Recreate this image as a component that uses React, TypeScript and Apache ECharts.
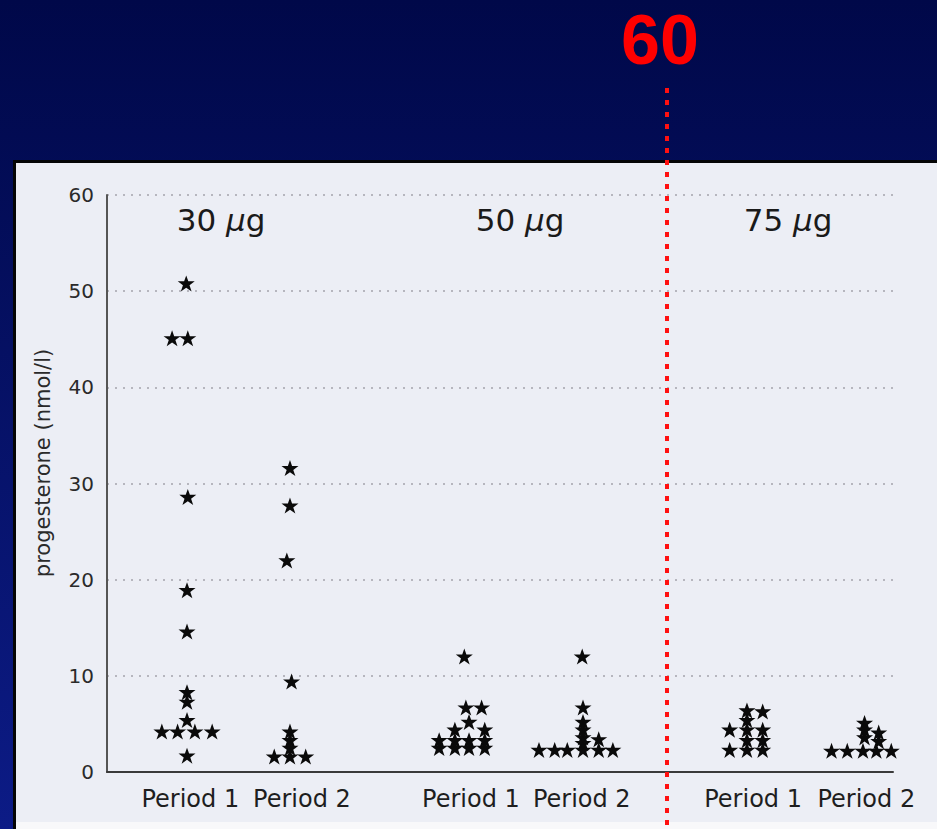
import React, { useEffect, useRef } from "react";
import * as echarts from "echarts";

// ---- data (x in star-column units along the baseline, y in nmol/l) ----
const doseTitles = ["30", "50", "75"];
const periodLabels = ["Period 1", "Period 2", "Period 1", "Period 2", "Period 1", "Period 2"];
const periodPositions = [5.3, 12.4, 23.15, 30.2, 41.1, 48.3];
const groupCenters = [5.09, 11.64, 23.03, 30.28, 40.71, 48.09];

const g1Values = [50.8, 45.1, 45.1, 28.6, 18.9, 14.6, 8.3, 7.3, 5.4, 4.2, 4.2, 4.2, 4.2, 1.7];
const g1Cols = [-0.05, -0.95, 0.05, 0.05, 0, 0, 0, 0, 0, -1.6, -0.6, 0.5, 1.6, 0];
const g2Values = [31.6, 27.7, 22.0, 9.4, 4.2, 3.3, 2.5, 1.6, 1.6, 1.6];
const g2Cols = [0, 0, -0.2, 0.1, 0, 0, 0, -1, 0, 1];
const g3Values = [12.0, 6.7, 6.7, 5.2, 4.4, 4.4, 3.3, 3.3, 3.3, 3.3, 2.5, 2.5, 2.5, 2.5];
const g3Cols = [-0.3, -0.2, 0.8, 0, -0.9, 1.0, -1.9, -0.9, 0, 1.0, -1.9, -0.9, 0, 1.0];
const g4Values = [12.0, 6.7, 5.2, 4.4, 3.6, 3.0, 3.4, 2.3, 2.3, 2.3, 2.3, 2.3, 2.3];
const g4Cols = [-0.05, 0, 0, 0, 0, 0, 1.0, -2.8, -1.8, -1.0, 0, 1.0, 1.9];
const g5Values = [6.4, 6.3, 5.4, 4.4, 4.4, 4.4, 3.3, 3.3, 2.3, 2.3, 2.3];
const g5Cols = [0, 1.0, 0, -1.1, 0, 1.0, 0, 1.0, -1.1, 0, 1.0];
const g6Values = [5.1, 4.4, 3.6, 4.1, 3.2, 2.2, 2.2, 2.2, 2.2, 2.2, 2.2];
const g6Cols = [0.1, 0.1, 0.1, 1.0, 1.0, -2.0, -1.0, 0, 0.85, 1.8, 2.75];

const yTicks = [0, 10, 20, 30, 40, 50, 60];

const groupValues = [g1Values, g2Values, g3Values, g4Values, g5Values, g6Values];
const groupCols = [g1Cols, g2Cols, g3Cols, g4Cols, g5Cols, g6Cols];

const STAR =
  "path://M50,0 L62,34 L99,34 L69,57 L81,93 L50,71 L19,93 L31,57 L1,34 L38,34 Z";

export default function App() {
  const ref = useRef<HTMLDivElement>(null);

  useEffect(() => {
    if (!ref.current) return;
    const chart = echarts.init(ref.current, null, { renderer: "svg" });

    const points: number[][] = [];
    groupValues.forEach((vals, g) => {
      vals.forEach((v, i) => {
        points.push([groupCenters[g] + groupCols[g][i], v]);
      });
    });

    const font = "DejaVu Sans";
    const titleCenters = [221, 520, 788];

    chart.setOption({
      animation: false,
      backgroundColor: new echarts.graphic.LinearGradient(0, 0, 0, 1, [
        { offset: 0, color: "#000849" },
        { offset: 1, color: "#0c1b86" },
      ]),
      grid: { left: 107, right: 44, top: 195, bottom: 57 },
      xAxis: {
        type: "value",
        min: 0,
        max: 50,
        axisLine: { show: true, onZero: false, lineStyle: { color: "#3a3a3a", width: 2 } },
        axisTick: { show: false },
        splitLine: { show: false },
        axisLabel: {
          customValues: periodPositions,
          margin: 15,
          fontFamily: font,
          fontSize: 24,
          color: "#1e1e1e",
          formatter: (v: number) => {
            const idx = periodPositions.findIndex((p) => Math.abs(p - v) < 1e-6);
            return idx >= 0 ? periodLabels[idx] : "";
          },
        },
      },
      yAxis: {
        type: "value",
        min: 0,
        max: 60,
        interval: 10,
        axisLine: { show: true, lineStyle: { color: "#555", width: 2 } },
        axisTick: { show: false },
        axisLabel: {
          margin: 13,
          fontFamily: font,
          fontSize: 20,
          color: "#2a2a2a",
          formatter: (v: number) => (yTicks.includes(v) ? String(v) : ""),
        },
        splitLine: {
          show: true,
          lineStyle: { color: "#a4a4ac", width: 1.5, type: [2, 6] },
        },
      },
      series: [
        {
          type: "scatter",
          data: points,
          symbol: STAR,
          symbolSize: [17, 16],
          itemStyle: { color: "#0a0a0a", opacity: 1 },
          z: 5,
        },
      ],
      graphic: [
        {
          type: "rect",
          z: -20,
          shape: { x: 13, y: 160, width: 930, height: 675 },
          style: { fill: "#050505" },
        },
        {
          type: "rect",
          z: -19,
          shape: { x: 16, y: 163, width: 925, height: 670 },
          style: { fill: "#eceef5" },
        },
        {
          type: "rect",
          z: -19,
          shape: { x: 16, y: 822, width: 925, height: 10 },
          style: { fill: "#f8f8fa" },
        },
        ...doseTitles.map((d, i) => ({
          type: "text",
          z: 10,
          x: titleCenters[i],
          y: 220,
          style: {
            text: `{n|${d} }{i|µ}{n|g}`,
            align: "center",
            verticalAlign: "middle",
            rich: {
              n: { fontFamily: font, fontSize: 31, fill: "#1a1a1a" },
              i: { fontFamily: font, fontSize: 31, fontStyle: "italic", fill: "#1a1a1a" },
            },
          },
        })),
        {
          type: "text",
          z: 10,
          x: 43,
          y: 463,
          rotation: Math.PI / 2,
          style: {
            text: "progesterone (nmol/l)",
            fontFamily: font,
            fontSize: 21,
            fill: "#2a2a2a",
            align: "center",
            verticalAlign: "middle",
          },
        },
        {
          type: "text",
          z: 50,
          x: 660,
          y: 40,
          style: {
            text: "60",
            fontFamily: "Liberation Sans",
            fontWeight: "bold",
            fontSize: 70,
            fill: "#ff0000",
            align: "center",
            verticalAlign: "middle",
          },
        },
        {
          type: "line",
          z: 100,
          shape: { x1: 667, y1: 88, x2: 667, y2: 829 },
          style: { stroke: "#ff1010", lineWidth: 4, lineDash: [5, 7] },
        },
      ],
    });

    return () => chart.dispose();
  }, []);

  return (
    <div
      ref={ref}
      style={{ position: "fixed", left: 0, top: 0, width: 937, height: 829 }}
    />
  );
}
